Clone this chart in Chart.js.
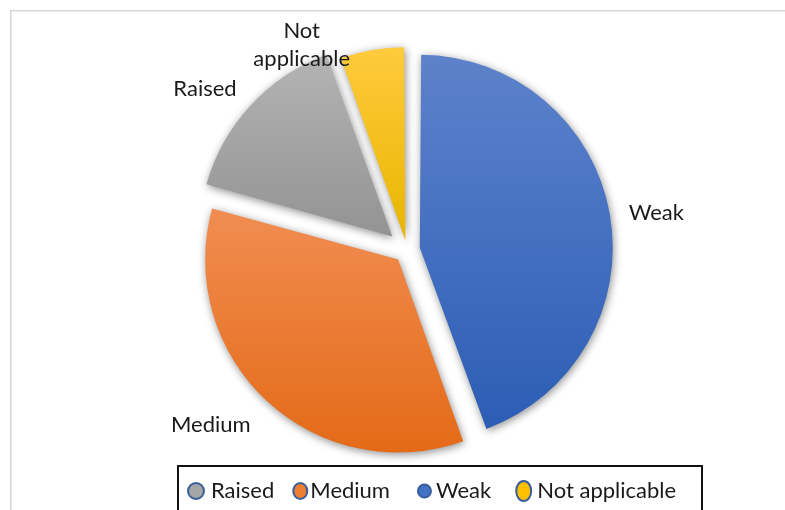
<!DOCTYPE html>
<html>
<head>
<meta charset="utf-8">
<script src="https://cdn.jsdelivr.net/npm/chart.js@4.4.1/dist/chart.umd.min.js"></script>
<style>
  html, body { margin: 0; padding: 0; background: #fff; }
  #wrap { width: 785px; height: 510px; position: relative; }
</style>
</head>
<body>
<div id="wrap"><canvas id="grafico" width="785" height="510"></canvas></div>
<script>
// categorias na ordem do gráfico (sentido horário a partir do topo)
const categorias = ['Weak', 'Medium', 'Raised', 'Not applicable'];
const valores = [44.5, 34.8, 15.2, 5.5];
const rotulos = [['Weak'], ['Medium'], ['Raised'], ['Not', 'applicable']];
const ordemLegenda = ['Raised', 'Medium', 'Weak', 'Not applicable'];

// cores: topo e base do degradê de cada fatia
const coresTopo = ['#5d82cb', '#f18d52', '#b4b4b4', '#ffca3c'];
const coresBase = ['#2c5db5', '#e46a17', '#939393', '#e8b600'];
const coresLegenda = ['#4472c4', '#ed7d31', '#a5a5a5', '#ffc000'];
const deslocamentos = [52, 52, 80, 40];

const RAIO = 193;
const fonte = '22px Lato';

function degradeFatia(context) {
  const chart = context.chart;
  const area = chart.chartArea;
  const i = context.dataIndex;
  if (!area) return coresLegenda[i];

  const total = valores.reduce((a, b) => a + b, 0);
  let antes = 0;
  for (let k = 0; k < i; k++) antes += valores[k];
  const ini = antes / total * Math.PI * 2;
  const fim = (antes + valores[i]) / total * Math.PI * 2;

  const cy = (area.top + area.bottom) / 2;
  const ys = [cy, cy - RAIO * Math.cos(ini), cy - RAIO * Math.cos(fim)];
  if (ini <= 0.0001) ys.push(cy - RAIO);
  if (ini <= Math.PI && fim >= Math.PI) ys.push(cy + RAIO);

  const g = chart.ctx.createLinearGradient(0, Math.min(...ys), 0, Math.max(...ys));
  g.addColorStop(0, coresTopo[i]);
  g.addColorStop(1, coresBase[i]);
  return g;
}

// o Chart.js aumenta o raio das fatias deslocadas; aqui todas voltam ao mesmo raio
const raioIgual = {
  id: 'raioIgual',
  afterDatasetUpdate(chart, args) {
    args.meta.data.forEach((arco, i) => {
      const circ = arco.endAngle - arco.startAngle;
      const fix = 1 - Math.sin(Math.min(Math.PI, circ));
      arco.outerRadius = RAIO - (deslocamentos[i] / 4) * fix;
    });
  }
};

// moldura cinza da área do gráfico
const moldura = {
  id: 'moldura',
  beforeDraw(chart) {
    const ctx = chart.ctx;
    ctx.save();
    ctx.strokeStyle = '#d6d6d6';
    ctx.lineWidth = 1.5;
    ctx.beginPath();
    ctx.moveTo(10.75, 512);
    ctx.lineTo(10.75, 10.75);
    ctx.lineTo(790, 10.75);
    ctx.stroke();
    ctx.restore();
  }
};

// sombra suave nas fatias
const sombra = {
  id: 'sombra',
  beforeDatasetDraw(chart) {
    const ctx = chart.ctx;
    ctx.save();
    ctx.shadowColor = 'rgba(0, 0, 0, 0.45)';
    ctx.shadowBlur = 8;
    ctx.shadowOffsetX = 1;
    ctx.shadowOffsetY = 2;
  },
  afterDatasetDraw(chart) {
    chart.ctx.restore();
  }
};

// ajustes finos dos rótulos das fatias
const ajusteRotulo = [[1, 1], [-4, 11], [-1, -4], [-19, 13]];

const rotulosFatias = {
  id: 'rotulosFatias',
  afterDatasetsDraw(chart) {
    const ctx = chart.ctx;
    const meta = chart.getDatasetMeta(0);
    ctx.save();
    ctx.font = fonte;
    ctx.fillStyle = '#1a1a1a';
    ctx.textAlign = 'center';
    ctx.textBaseline = 'middle';
    meta.data.forEach((arco, i) => {
      const p = arco.getProps(['x', 'y', 'startAngle', 'endAngle']);
      const meio = (p.startAngle + p.endAngle) / 2;
      const r = RAIO + deslocamentos[i] / 4 + 18;
      const ax = p.x + Math.cos(meio) * r + ajusteRotulo[i][0];
      const ay = p.y + Math.sin(meio) * r + ajusteRotulo[i][1];
      const linhas = rotulos[i];
      const largura = Math.max(...linhas.map((l) => ctx.measureText(l).width));
      const cx = Math.cos(meio) >= 0 ? ax + largura / 2 : ax - largura / 2;
      const alturaLinha = 28;
      const y0 = ay - (linhas.length - 1) * alturaLinha / 2;
      linhas.forEach((l, k) => ctx.fillText(l, cx, y0 + k * alturaLinha));
    });
    ctx.restore();
  }
};

// legenda com caixa preta embaixo: [raio x, raio y, espaço antes, espaço até o texto]
const marcadores = {
  'Raised': [8, 8, 0, 7],
  'Medium': [7, 8, 19, 3],
  'Weak': [6.5, 6.5, 28, 5],
  'Not applicable': [7.5, 10, 25, 6]
};

const legendaCaixa = {
  id: 'legendaCaixa',
  afterDraw(chart) {
    const ctx = chart.ctx;
    ctx.save();
    ctx.strokeStyle = '#111';
    ctx.lineWidth = 2;
    ctx.strokeRect(178, 466, 524, 60);

    ctx.font = fonte;
    ctx.textBaseline = 'middle';
    ctx.textAlign = 'left';
    const y = 491;
    let x = 188;
    ordemLegenda.forEach((nome) => {
      const i = categorias.indexOf(nome);
      const [rx, ry, antes, depois] = marcadores[nome];
      x += antes;
      ctx.beginPath();
      ctx.ellipse(x + rx, y, rx, ry, 0, 0, Math.PI * 2);
      ctx.fillStyle = coresLegenda[i];
      ctx.fill();
      ctx.lineWidth = 2;
      ctx.strokeStyle = '#3a5d9c';
      ctx.stroke();
      const tx = x + rx * 2 + depois;
      ctx.fillStyle = '#1a1a1a';
      ctx.fillText(nome, tx, y);
      x = tx + ctx.measureText(nome).width;
    });
    ctx.restore();
  }
};

const ctx = document.getElementById('grafico').getContext('2d');

new Chart(ctx, {
  type: 'pie',
  data: {
    labels: categorias,
    datasets: [{
      data: valores,
      backgroundColor: degradeFatia,
      borderWidth: 0,
      offset: deslocamentos
    }]
  },
  options: {
    responsive: false,
    animation: false,
    events: [],
    radius: RAIO,
    layout: {
      padding: { left: 29, right: 0, top: 0, bottom: 10 }
    },
    plugins: {
      legend: { display: false },
      tooltip: { enabled: false }
    }
  },
  plugins: [raioIgual, moldura, sombra, rotulosFatias, legendaCaixa]
});
</script>
</body>
</html>
